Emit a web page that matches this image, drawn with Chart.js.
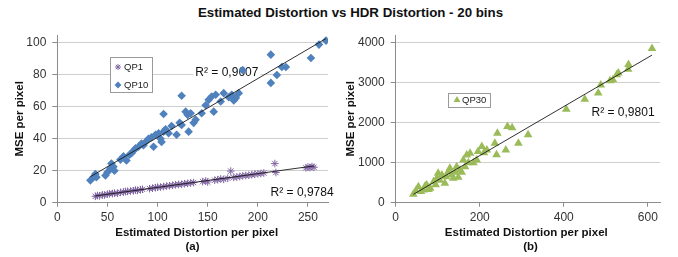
<!DOCTYPE html>
<html><head><meta charset="utf-8">
<script src="https://cdn.jsdelivr.net/npm/chart.js@4.4.0/dist/chart.umd.min.js"></script>
<style>
html,body{margin:0;padding:0;background:#fff;width:678px;height:257px;overflow:hidden;}
#title{position:absolute;left:0;top:3px;width:701px;text-align:center;font:bold 13.3px 'Liberation Sans',Arial,sans-serif;color:#111;white-space:nowrap;line-height:20px;}
.cv{position:absolute;top:0;width:339px;height:257px;}
</style></head><body>
<div id="title">Estimated Distortion vs HDR Distortion - 20 bins</div>
<canvas id="c1" class="cv" style="left:0" width="339" height="257"></canvas>
<canvas id="c2" class="cv" style="left:339px" width="339" height="257"></canvas>
<script>
// ---------- data ----------
const seriesNames = ['QP1', 'QP10', 'QP30'];
const qp1 = [[38,4.0],[40,4.5],[42,4.3],[45,4.9],[47,4.8],[50,5.3],[52,5.6],[55,5.7],[57,6.0],[60,5.9],[63,6.5],[66,6.7],[68,7.0],[70,7.1],[73,7.3],[76,7.5],[78,7.9],[80,7.7],[83,8.1],[85,8.4],[92,8.8],[95,9.1],[98,9.4],[100,9.7],[103,9.8],[106,10.1],[109,10.4],[112,10.6],[115,10.9],[118,11.2],[121,11.4],[124,11.6],[127,11.9],[130,12.1],[133,12.4],[136,12.6],[145,13.2],[148,13.6],[150,13.0],[157,14.1],[160,14.4],[163,14.9],[166,14.6],[170,15.3],[173,19.8],[176,15.8],[179,16.1],[182,16.4],[185,16.8],[188,17.0],[191,17.2],[194,17.5],[197,17.8],[200,18.1],[203,18.3],[206,18.6],[217,24.5],[218,18.9],[248,21.8],[250,22.3],[252,22.0],[254,22.6],[256,22.2]];
const qp10 = [[33,14],[36,16],[38,18],[39,16],[48,17],[50,19],[53,21.5],[54,24.5],[56,22.5],[57,20],[63,27],[66,29],[69,26.5],[72,30],[74,31],[76,32.5],[78,34],[81,35],[84,37],[86,36],[88,38],[91,40],[94,41],[96,35],[98,42.5],[101,43.5],[103,40],[104,38],[106,55.5],[106,44.5],[108,46],[111,43.5],[114,48],[119,42.5],[122,50],[124,67],[124,48.7],[128,57],[130,55],[131,44.5],[133,56],[136,50],[138,52],[144,56],[148,61],[151,64.4],[154,66.5],[156,57],[158,67.6],[163,63.4],[166,68.6],[171,66],[174,67.6],[176,64],[178,65.5],[181,68.6],[185,83],[213,92.7],[213,75],[219,80],[224,85],[228,85],[253,90.6],[261,99],[268,101.5]];
const qp30 = [[42,211],[48,300],[54,400],[60,280],[66,320],[70,420],[74,445],[78,330],[82,360],[90,527],[95,450],[98,612],[101,737],[105,560],[110,695],[117,487],[120,650],[125,778],[129,863],[133,700],[137,612],[141,760],[145,903],[149,640],[153,820],[157,760],[161,1071],[165,900],[169,1197],[173,1000],[177,1240],[185,1000],[193,1071],[196,1280],[205,1405],[210,1250],[217,1322],[236,1490],[240,1200],[242,1741],[262,1322],[266,1907],[277,1880],[292,1490],[315,1700],[406,2340],[450,2590],[482,2745],[488,2950],[510,3054],[517,3080],[526,3204],[530,3247],[553,3340],[554,3460],[610,3860]];
const xTicksA = [0,50,100,150,200,250];
const yTicksA = [0,20,40,60,80,100];
const xTicksB = [0,200,400,600];
const yTicksB = [0,1000,2000,3000,4000];
const r2Text = ['R² = 0,9607', 'R² = 0,9784', 'R² = 0,9801'];
const xTitle = 'Estimated Distortion per pixel';
const yTitle = 'MSE per pixel';
const subLabels = ['(a)', '(b)'];

// ---------- helpers ----------
function toPts(arr){ return arr.map(p => ({x:p[0], y:p[1]})); }
function trend(arr){
  let n=arr.length,sx=0,sy=0,sxx=0,sxy=0,mn=Infinity,mx=-Infinity;
  arr.forEach(([x,y])=>{sx+=x;sy+=y;sxx+=x*x;sxy+=x*y;mn=Math.min(mn,x);mx=Math.max(mx,x);});
  const m=(n*sxy-sx*sy)/(n*sxx-sx*sx), b=(sy-m*sx)/n;
  return [{x:mn,y:m*mn+b},{x:mx,y:m*mx+b}];
}
const FONT = "'Liberation Sans',Arial,sans-serif";
const colors = {QP1:'#8064A2', QP10:'#4F81BD', QP30:'#9BBB59'};
const styles = {QP1:{pointStyle:'star', radius:3.8, bw:1}, QP10:{pointStyle:'rectRot', radius:4.3, bw:0}, QP30:{pointStyle:'triangle', radius:5, bw:0}};

function scatterDs(name, arr){
  const s = styles[name];
  return {type:'scatter', label:name, data:toPts(arr), order:2,
    pointStyle:s.pointStyle, pointRadius:s.radius, pointBorderWidth:s.bw,
    backgroundColor:colors[name], borderColor:colors[name], pointHoverRadius:s.radius};
}
function trendDs(arr){
  return {type:'line', label:'trend', data:trend(arr), order:1, borderColor:'#1a1a1a', borderWidth:0.9,
    pointRadius:0, fill:false, showLine:true};
}

const overlay = {
  id:'overlay',
  beforeDatasetsDraw(chart, args, opts){
    const ctx = chart.ctx; ctx.save();
    ctx.font = "12px " + FONT;
    ctx.textBaseline = 'middle';
    (opts.labels||[]).forEach(l=>{
      const x = chart.scales.x.getPixelForValue(l.x), y = chart.scales.y.getPixelForValue(l.y);
      const w = ctx.measureText(l.text).width;
      ctx.fillStyle = '#fff'; ctx.fillRect(x-2, y-7, w+4, 14);
      ctx.fillStyle = '#111'; ctx.fillText(l.text, x, y);
    });
    ctx.restore();
  },
  afterDatasetsDraw(chart, args, opts){
    const L = opts.legend; if(!L) return;
    const ctx = chart.ctx; ctx.save();
    ctx.fillStyle = '#fff'; ctx.fillRect(L.x, L.y, L.w, L.h);
    ctx.strokeStyle = '#9a9a9a'; ctx.lineWidth = 1;
    ctx.strokeRect(Math.round(L.x)+0.5, Math.round(L.y)+0.5, L.w, L.h);
    ctx.font = "9.5px " + FONT; ctx.textBaseline = 'middle';
    L.items.forEach((name, i)=>{
      const s = styles[name];
      const cy = L.y + L.first + i*L.step;
      ctx.fillStyle = colors[name]; ctx.strokeStyle = colors[name]; ctx.lineWidth = s.bw || 1;
      Chart.helpers.drawPoint(ctx, {pointStyle:s.pointStyle, radius:s.radius*0.8, borderWidth:s.bw, rotation:0}, L.x + L.mx, cy);
      ctx.fillStyle = '#222';
      ctx.fillText(name, L.x + L.tx, cy);
    });
    ctx.restore();
  },
  afterDraw(chart, args, opts){
    const T = opts.xtitle; if(!T) return;
    const ctx = chart.ctx; ctx.save();
    ctx.font = "bold 11.5px " + FONT; ctx.textBaseline = 'middle'; ctx.textAlign = 'center';
    ctx.fillStyle = '#111';
    ctx.fillText(T.text, T.cx, T.cy);
    ctx.fillText(T.sub, T.scx, T.scy);
    ctx.restore();
  }
};

function makeChart(id, cfg){
  return new Chart(document.getElementById(id), {
    data:{datasets:cfg.datasets},
    options:{
      responsive:false, animation:false, devicePixelRatio:1,
      layout:{padding:{left:0, right:cfg.padRight, top:35, bottom:0}},
      plugins:{legend:{display:false}, tooltip:{enabled:false}, overlay:{labels:cfg.labels, legend:cfg.legend, xtitle:cfg.xtitle}},
      scales:{
        x:{type:'linear', position:'bottom', min:0, max:cfg.xMax,
          afterBuildTicks:s=>{s.ticks = cfg.xTicks.map(v=>({value:v}));},
          afterFit:s=>{s.height = 54.3;},
          grid:{drawOnChartArea:false, drawTicks:true, tickLength:4, tickColor:'#8c8c8c', lineWidth:1},
          border:{color:'#8c8c8c', width:1},
          ticks:{padding:4, color:'#333', font:{family:FONT, size:12}, maxRotation:0, autoSkip:false, callback:v=>String(v)},
          title:{display:false}
        },
        y:{type:'linear', min:0, max:cfg.yMax,
          afterBuildTicks:s=>{s.ticks = cfg.yTicks.map(v=>({value:v}));},
          afterFit:s=>{s.width = cfg.yW;},
          grid:{color:'#cfcfcf', lineWidth:1, drawTicks:true, tickLength:5, tickColor:'#8c8c8c'},
          border:{color:'#8c8c8c', width:1},
          ticks:{padding:6, color:'#333', font:{family:FONT, size:12}, callback:v=>String(v)},
          title:{display:true, text:yTitle, color:'#111', font:{family:FONT, size:11.5, weight:'bold', lineHeight:1.2}, padding:{top:cfg.yTitlePad, bottom:0}}
        }
      }
    },
    plugins:[overlay]
  });
}

makeChart('c1', {
  datasets:[trendDs(qp1), trendDs(qp10), scatterDs('QP1', qp1), scatterDs('QP10', qp10)],
  xMax:270, yMax:105, xTicks:xTicksA, yTicks:yTicksA, padRight:11, yW:57.3, yTitlePad:13, 
  labels:[{text:r2Text[0], x:137.7, y:81.4},{text:r2Text[1], x:212.7, y:6.3}],
  legend:{x:110, y:57, w:42, h:35, first:10, step:18, mx:8, tx:14, items:['QP1','QP10']},
  xtitle:{text:xTitle, cx:196.7, cy:232.5, sub:subLabels[0], scx:192.5, scy:247}
});
makeChart('c2', {
  datasets:[trendDs(qp30), scatterDs('QP30', qp30)],
  xMax:629, yMax:4200, xTicks:xTicksB, yTicks:yTicksB, padRight:18, yW:56.7, yTitlePad:5, 
  labels:[{text:r2Text[2], x:466, y:2258}],
  legend:{x:448-339, y:93, w:42, h:14, first:7, step:18, mx:9, tx:14, items:['QP30']},
  xtitle:{text:xTitle, cx:187.3, cy:232.5, sub:subLabels[1], scx:191.5, scy:247}
});
</script>
</body></html>
